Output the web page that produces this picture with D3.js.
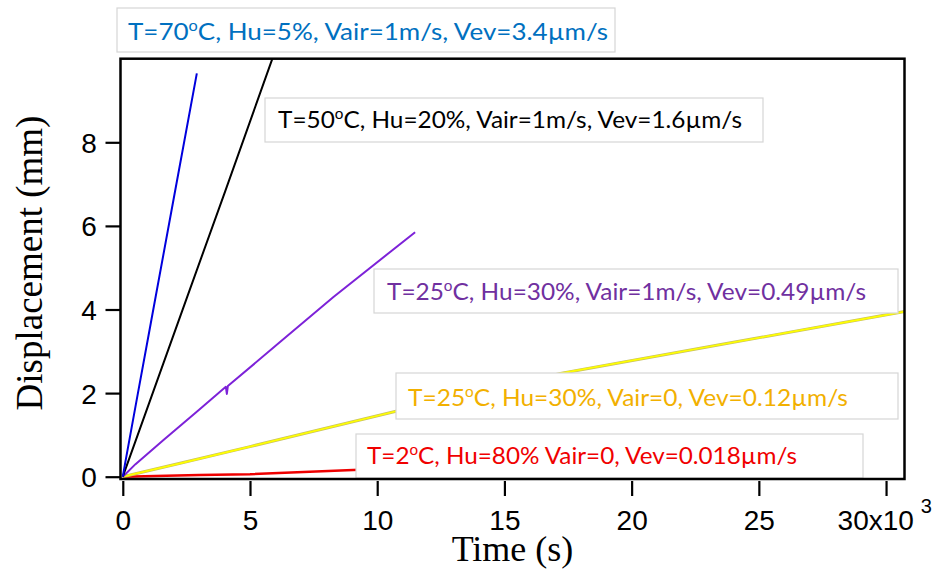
<!DOCTYPE html>
<html><head><meta charset="utf-8">
<script src="https://cdn.jsdelivr.net/npm/d3@7"></script>
<style>body{margin:0;background:#fff}</style>
</head><body>
<svg id="c" width="938" height="580" xmlns="http://www.w3.org/2000/svg"></svg>
<script>
// ---- data (time in s, displacement in mm) ----
const xTicks = [0, 5000, 10000, 15000, 20000, 25000, 30000];
const yTicks = [0, 2, 4, 6, 8];
const xTickLabels = ["0", "5", "10", "15", "20", "25", "30x10"];
const xExponent = "3";
const xTitle = "Time (s)";
const yTitle = "Displacement (mm)";

const blueTime = [0, 100, 550, 1100, 2000, 2910];
const blueDisp = [0, 0.35, 1.85, 3.67, 6.65, 9.65];
const blackTime = [0, 1070, 2500, 4020, 5880];
const blackDisp = [0, 1.82, 4.25, 6.82, 10.0];
const purpleTime = [0, 500, 1600, 3000, 4050, 4090, 4130, 6180, 8280, 11490];
const purpleDisp = [0, 0.3, 0.88, 1.6, 2.15, 1.98, 2.17, 3.22, 4.3, 5.85];
const yellowTime = [0, 2250, 5000, 10700, 17200, 23400, 30730];
const yellowDisp = [0, 0.32, 0.72, 1.56, 2.47, 3.15, 3.95];
const redTime = [0, 3000, 5000, 9050, 15000, 21800];
const redDisp = [0, 0.04, 0.06, 0.16, 0.27, 0.39];

const legendTemps = ["70", "50", "25", "25", "2"];
const legendRest = [
  "C, Hu=5%, Vair=1m/s, Vev=3.4µm/s",
  "C, Hu=20%, Vair=1m/s, Vev=1.6µm/s",
  "C, Hu=30%, Vair=1m/s, Vev=0.49µm/s",
  "C, Hu=30%, Vair=0, Vev=0.12µm/s",
  "C, Hu=80% Vair=0, Vev=0.018µm/s"
];

// ---- styles / layout ----
const lineColors = ["#0000dd", "#000000", "#7d22d8", "#f4f000", "#ee0000"];
const textColors = ["#0070c0", "#000000", "#7030a0", "#f2b000", "#f00000"];
const legendLayout = [
  {x: 117, y: 8,   w: 498, h: 44, tx: 128, tw: 480, by: 40},
  {x: 265, y: 98,  w: 498, h: 44, tx: 278, tw: 464, by: 128},
  {x: 374, y: 269, w: 524, h: 44, tx: 387, tw: 479, by: 300},
  {x: 396, y: 373, w: 502, h: 46, tx: 408, tw: 440, by: 406},
  {x: 356, y: 434, w: 507, h: 44, tx: 367, tw: 430, by: 464}
];

const svg = d3.select("#c");
svg.append("rect").attr("width", 938).attr("height", 580).attr("fill", "#fff");

const frame = {l: 120.5, r: 904.5, t: 58.7, b: 479};
const x = d3.scaleLinear().domain([-90, 30725]).range([frame.l, frame.r]);
const y = d3.scaleLinear().domain([-0.055, 10.0]).range([frame.b, frame.t]);

svg.append("clipPath").attr("id", "clip").append("rect")
  .attr("x", frame.l).attr("y", frame.t)
  .attr("width", frame.r - frame.l).attr("height", frame.b - frame.t);

const series = [
  [blueTime, blueDisp], [blackTime, blackDisp], [purpleTime, purpleDisp],
  [yellowTime, yellowDisp], [redTime, redDisp]
].map(([t, d]) => t.map((v, i) => [v, d[i]]));

const line = d3.line().x(d => x(d[0])).y(d => y(d[1]));
const g = svg.append("g").attr("clip-path", "url(#clip)");

[4, 3, 2, 1, 0].forEach(i => {
  if (i === 3) {
    g.append("path").attr("d", line(series[i])).attr("fill", "none")
      .attr("stroke", "#c9c260").attr("stroke-width", 3).attr("stroke-linejoin", "round");
    g.append("path").attr("d", line(series[i])).attr("fill", "none")
      .attr("stroke", "#ffff00").attr("stroke-width", 1.7).attr("stroke-linejoin", "round");
  } else {
    g.append("path").attr("d", line(series[i])).attr("fill", "none")
      .attr("stroke", lineColors[i]).attr("stroke-width", i === 4 ? 2.6 : 2)
      .attr("stroke-linejoin", "round");
  }
});

// legend boxes
legendLayout.forEach((L, i) => {
  svg.append("rect").attr("x", L.x).attr("y", L.y).attr("width", L.w).attr("height", L.h)
    .attr("fill", "#fff").attr("stroke", "#d6d6d6").attr("stroke-width", 1.2);
  const t = svg.append("text").attr("x", L.tx).attr("y", L.by)
    .attr("font-family", "Lato, 'Open Sans', sans-serif").attr("font-size", 24)
    .attr("fill", textColors[i])
    .attr("textLength", L.tw).attr("lengthAdjust", "spacingAndGlyphs");
  t.append("tspan").text("T=" + legendTemps[i]);
  t.append("tspan").attr("font-size", 15).attr("dy", -9).text("o");
  t.append("tspan").attr("dy", 9).text(legendRest[i]);
});

// frame
svg.append("rect").attr("x", frame.l).attr("y", frame.t)
  .attr("width", frame.r - frame.l).attr("height", frame.b - frame.t)
  .attr("fill", "none").attr("stroke", "#000").attr("stroke-width", 2.5);

// x axis
const xa = svg.append("g").attr("transform", `translate(0,${frame.b + 2})`)
  .call(d3.axisBottom(x).tickValues(xTicks).tickSize(15).tickFormat((d, i) => xTickLabels[i]));
xa.select(".domain").remove();
xa.selectAll(".tick line").attr("stroke", "#000").attr("stroke-width", 2.2);
xa.selectAll(".tick text")
  .attr("font-family", "'Liberation Sans', Arial, sans-serif").attr("font-size", 28)
  .attr("fill", "#000").attr("y", 48.5).attr("dy", 0);
xa.selectAll(".tick text").filter((d, i) => i === xTicks.length - 1)
  .attr("text-anchor", "start").attr("x", -49)
  .append("tspan").attr("font-size", 20).attr("dx", 7).attr("dy", -17).text(xExponent);

// y axis
const ya = svg.append("g").attr("transform", `translate(${frame.l},0)`)
  .call(d3.axisLeft(y).tickValues(yTicks).tickSize(15));
ya.select(".domain").remove();
ya.selectAll(".tick line").attr("stroke", "#000").attr("stroke-width", 2.2);
ya.selectAll(".tick text")
  .attr("font-family", "'Liberation Sans', Arial, sans-serif").attr("font-size", 28)
  .attr("fill", "#000").attr("x", -23.8).attr("dy", "0.36em");

// titles
svg.append("text").attr("x", (frame.l + frame.r) / 2).attr("y", 561)
  .attr("text-anchor", "middle").attr("font-family", "'Liberation Serif', 'Times New Roman', serif")
  .attr("font-size", 36).attr("fill", "#000").text(xTitle);
svg.append("text").attr("transform", "translate(42,263) rotate(-90)")
  .attr("text-anchor", "middle").attr("font-family", "'Liberation Serif', 'Times New Roman', serif")
  .attr("font-size", 37).attr("fill", "#000").text(yTitle);
</script>
</body></html>
